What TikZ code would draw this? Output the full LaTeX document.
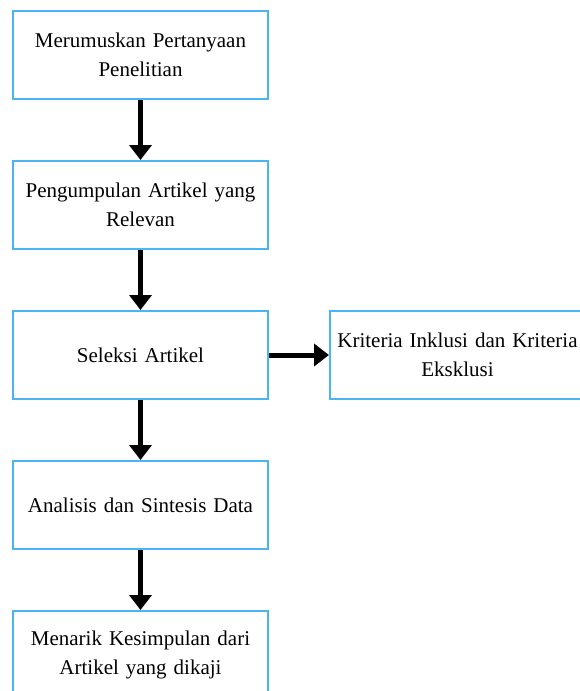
\documentclass[tikz,border=0pt]{standalone}
\usepackage{fontspec}
\setmainfont{Liberation Serif}
\usetikzlibrary{positioning}
\usetikzlibrary{arrows.meta}
\definecolor{boxblue}{RGB}{75,180,245}

\begin{document}
\begin{tikzpicture}[>={Triangle[width=22pt,length=15pt]},every node/.style={shape=rectangle,draw=boxblue,line width=2pt,minimum width=255pt,minimum height=88pt,text width=255pt,inner xsep=0pt,align=center,font=\fontsize{21}{29}\selectfont},node distance=60pt,]
	    \useasboundingbox (0,0) rectangle (579pt,-691pt);
	    % create the nodes
		    \node (rumus) at (140.5pt,-55pt) {Merumuskan Pertanyaan\\ Penelitian};
		    \node (kumpul)[below =of rumus] {Pengumpulan Artikel yang\\ Relevan};
		    \node (seleksi)[below =of kumpul] {Seleksi Artikel}; %filter
		    \node (kriteria)[right =of seleksi] {Kriteria Inklusi dan Kriteria\\ Eksklusi};
		    \node (analisis)[below =of seleksi] {Analisis dan Sintesis Data};
		    \node (simpul)[below =of analisis] {Menarik Kesimpulan dari\\ Artikel yang dikaji};
	    % connect them
		    \draw[->,line width=5pt] (rumus) -- (kumpul);
		    \draw[->,line width=5pt] (kumpul) -- (seleksi);
		    \draw[->,line width=5pt] (seleksi) -- (kriteria);
		    \draw[->,line width=5pt] (seleksi) -- (analisis);
		    \draw[->,line width=5pt] (analisis) -- (simpul);
		\end{tikzpicture}
\end{document}
